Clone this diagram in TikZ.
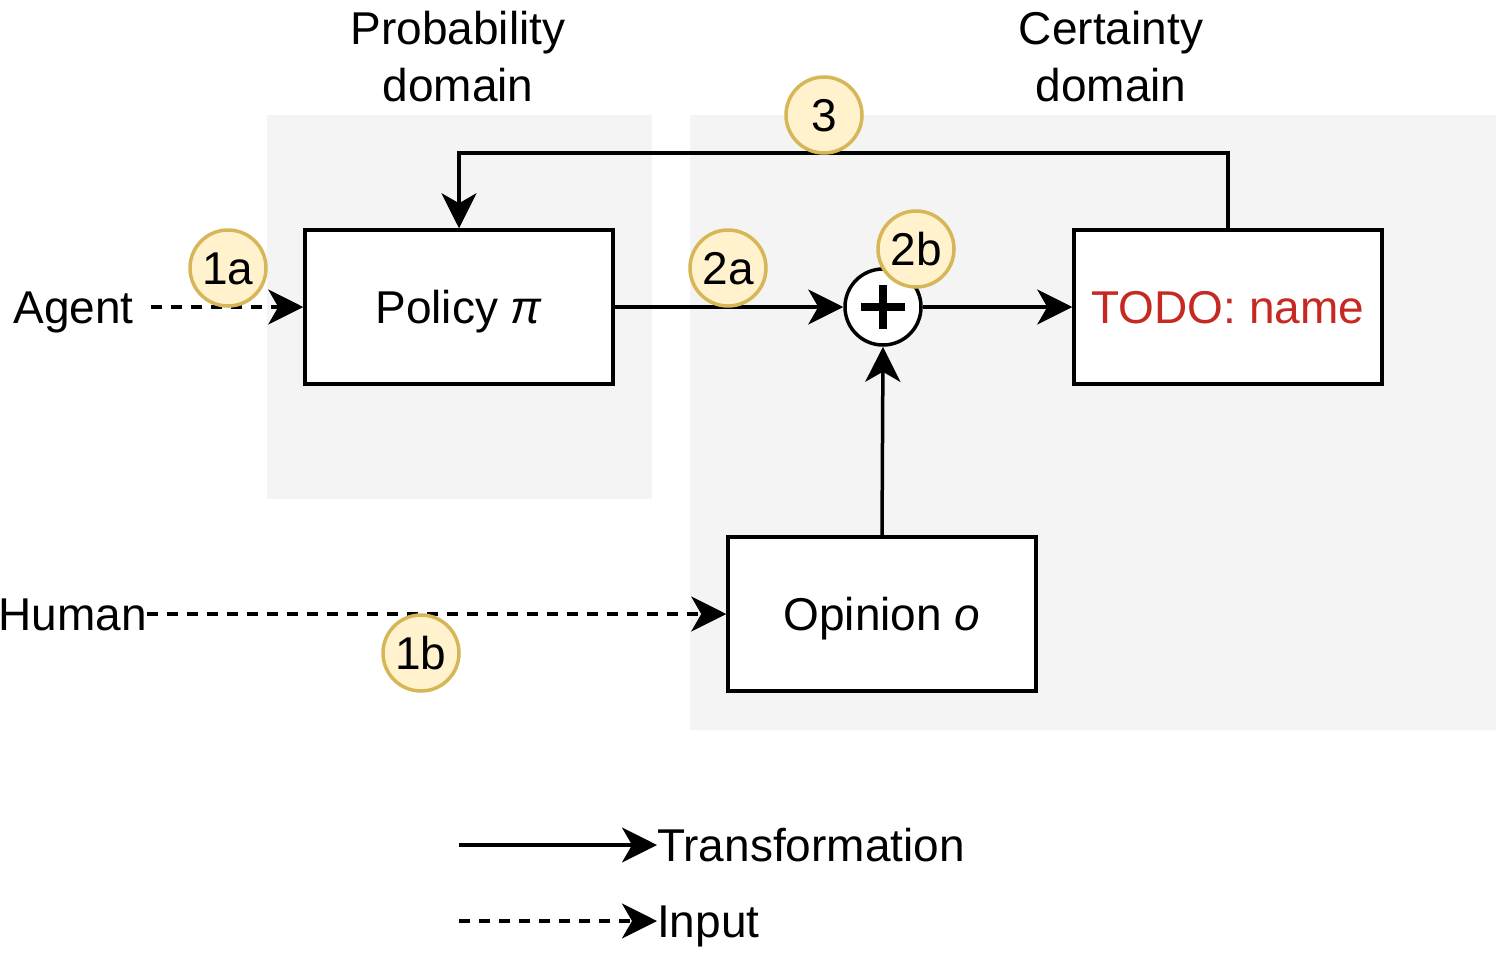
\documentclass[tikz,border=0pt]{standalone}
\usepackage{fontspec}
\setmainfont{Liberation Sans}
\usetikzlibrary{arrows.meta}
\definecolor{domaingray}{HTML}{F4F4F4}
\definecolor{badgefill}{HTML}{FFF2CC}
\definecolor{badgedraw}{HTML}{D6B656}
\definecolor{todored}{RGB}{198,40,34}
\tikzset{
  every node/.style={font=\fontsize{46}{54}\selectfont},
  domainbox/.style={fill=domaingray, draw=none},
  blockbox/.style={draw=black, line width=3.5pt, fill=white, minimum width=308pt, minimum height=154pt, inner sep=0pt, text height=33pt, text depth=0pt},
  badge/.style={circle, draw=badgedraw, fill=badgefill, line width=3.5pt, minimum size=76pt, inner sep=0pt, text height=33pt, text depth=0pt},
  lbl/.style={inner sep=0pt, text height=33pt, text depth=0pt},
  arr/.style={line width=3.5pt, -{Stealth[length=35pt, width=35pt, inset=10pt]}},
  inarr/.style={arr, dash pattern=on 11pt off 9pt},
}
\begin{document}
\begin{tikzpicture}[x=1pt, y=-1pt]
\useasboundingbox[fill=white] (0,0) rectangle (1496,964);
% domains
\fill[domaingray] (267,115) rectangle (652,499);
\fill[domaingray] (690,115) rectangle (1496,730);
\node[align=center, font=\fontsize{46}{57}\selectfont] (ptitle) at (458,57) {Probability\\domain};
\node[align=center, font=\fontsize{46}{57}\selectfont] (ctitle) at (1111,57) {Certainty\\domain};
% blocks
\node[blockbox] (policy) at (459,307) {Policy \textit{π}};
\node[blockbox, text=todored] (todo) at (1228,307) {TODO: name};
\node[blockbox] (opinion) at (882,614) {Opinion \textit{o}};
\node[circle, draw=black, fill=white, line width=3.5pt, minimum size=76pt, inner sep=0pt] (plus) at (883,307) {};
\draw[line width=8pt] ([xshift=-22pt]plus.center) -- ([xshift=22pt]plus.center);
\draw[line width=8pt] ([yshift=-22pt]plus.center) -- ([yshift=22pt]plus.center);
% labels
\node[lbl, anchor=east] (agent) at (134,307) {Agent};
\node[lbl, anchor=east] (human) at (147,614) {Human};
\coordinate (agentend) at (151,307);
% connectors
\draw[inarr] (agentend) -- (policy.west);
\draw[inarr] (human.east) -- (opinion.west);
\draw[arr] (policy.east) -- (plus.west);
\draw[arr] (plus.east) -- (todo.west);
\draw[arr] (opinion.north) -- (plus.south);
\draw[arr] (todo.north) |- (843,153) -| (policy.north);
% badges
\node[badge] (b1a) at (228,268) {1a};
\node[badge] (b2a) at (728,268) {2a};
\node[badge] (b2b) at (916,249) {2b};
\node[badge] (b3) at (824,115) {3};
\node[badge] (b1b) at (421,653) {1b};
% legend
\coordinate (l1s) at (459,845);
\coordinate (l2s) at (459,921);
\node[lbl, anchor=west] (ltrans) at (657,845) {Transformation};
\node[lbl, anchor=west] (linput) at (657,921) {Input};
\draw[arr] (l1s) -- (ltrans.west);
\draw[inarr] (l2s) -- (linput.west);
\end{tikzpicture}
\end{document}
